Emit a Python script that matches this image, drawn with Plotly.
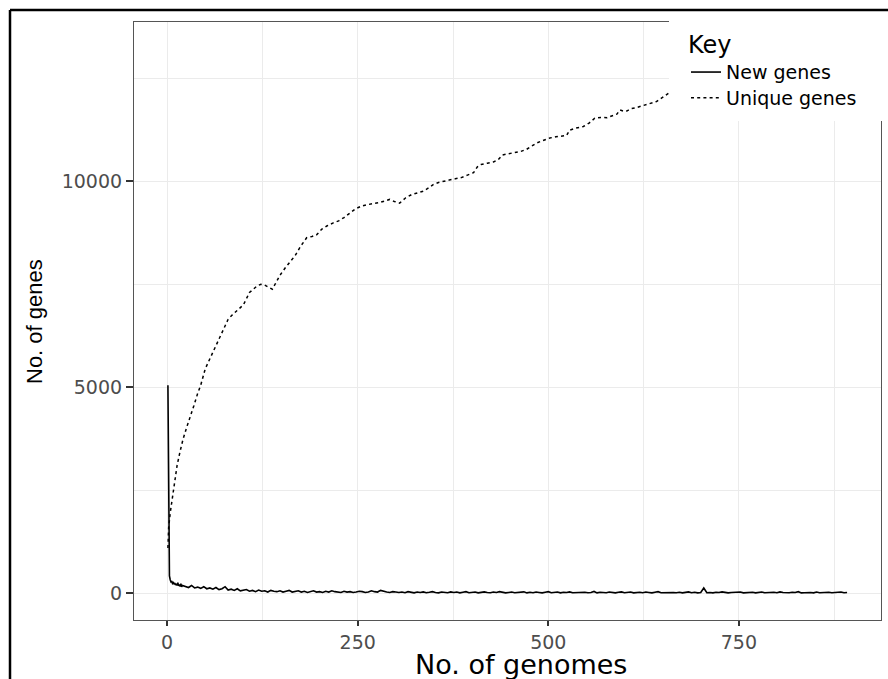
import plotly.graph_objects as go

# ---- data -------------------------------------------------------------
# New genes contributed by each added genome (sampled: every genome up to 20, then every 4th)
new_x = list(range(1, 21)) + list(range(24, 893, 4))
new_genes = [
    5050, 680, 420, 330, 280, 300, 240, 260, 220, 250,
    200, 230, 190, 260, 180, 210, 170, 230, 160, 190,
    # 24 ..
    170, 140, 190, 130, 150, 120, 160, 110, 130, 100,
    140, 90, 110, 160, 80, 100, 70, 110, 60, 80,
    90, 50, 70, 40, 80, 50, 60, 30, 70, 50,
    40, 60, 30, 50, 70, 30, 40, 60, 30, 50,
    20, 40, 60, 30, 40, 20, 50, 30, 60, 40,
    30, 20, 50, 30, 40, 20, 30, 50, 40, 20,
    30, 60, 40, 30, 70, 40, 30, 20, 40, 30,
    # 300 ..
    20, 30, 15, 40, 25, 10, 30, 20, 35, 15,
    25, 40, 20, 10, 30, 25, 15, 35, 20, 30,
    10, 25, 40, 15, 20, 30, 10, 25, 35, 20,
    15, 30, 20, 40, 25, 10, 20, 30, 15, 25,
    # 460 ..
    20, 35, 10, 25, 15, 30, 20, 10, 25, 40,
    15, 20, 30, 10, 25, 20, 35, 15, 20, 10,
    30, 25, 15, 20, 45, 10, 25, 20, 15, 30,
    20, 10, 25, 35, 15, 20, 30, 10, 20, 25,
    # 620 ..
    15, 30, 20, 10, 25, 40, 15, 20, 10, 30,
    20, 15, 25, 10, 20, 35, 15, 25, 10, 20,
    130, 15, 20, 10, 25, 20, 35, 15, 10, 20,
    25, 15, 30, 10, 20, 15, 25, 10, 20, 30,
    # 780 ..
    15, 20, 10, 25, 15, 35, 20, 10, 15, 25,
    20, 40, 10, 15, 25, 20, 10, 30, 15, 20,
    10, 25, 15, 20, 10, 30, 15, 20,
]

# Cumulative unique genes as genomes are added
uniq_x = [
    1, 2, 4, 6, 8, 10, 13, 17, 21, 26, 30, 35, 40, 44, 50, 55, 59, 64, 70, 75,
    80, 85, 89, 95, 100, 104, 108, 113, 118, 123, 128, 133, 138, 143, 148, 155, 162, 168, 175, 183,
    190, 196, 203, 210, 218, 225, 232, 240, 247, 255, 262, 270, 278, 286, 292, 298, 305, 313, 321, 329,
    336, 343, 349, 356, 362, 370, 378, 386, 394, 402, 407, 412, 420, 428, 434, 440, 448, 455, 463, 471,
    478, 485, 493, 502, 510, 518, 524, 528, 536, 546, 554, 561, 569, 577, 584, 590, 594, 599, 603, 608,
    614, 621, 629, 636, 642, 648, 654, 660, 668, 680, 700, 720, 740, 760, 780, 800, 820, 840, 860, 880,
    892,
]
uniq_genes = [
    1100, 1600, 1950, 2200, 2500, 2750, 3100, 3450, 3750, 4050, 4300, 4550, 4850, 5050, 5450, 5650, 5820, 6000, 6220, 6450,
    6650, 6750, 6820, 6900, 7000, 7150, 7300, 7380, 7460, 7500, 7480, 7430, 7380, 7550, 7720, 7900, 8060, 8200, 8420, 8630,
    8660, 8700, 8840, 8920, 8990, 9040, 9120, 9240, 9330, 9400, 9430, 9460, 9480, 9520, 9560, 9510, 9470, 9600, 9680, 9720,
    9760, 9840, 9920, 9970, 10000, 10030, 10060, 10090, 10150, 10210, 10350, 10410, 10440, 10470, 10520, 10640, 10670, 10690, 10720, 10770,
    10850, 10930, 10990, 11050, 11080, 11100, 11110, 11240, 11290, 11330, 11420, 11530, 11550, 11545, 11600, 11630, 11730, 11700, 11705, 11760,
    11780, 11820, 11870, 11900, 11935, 12010, 12090, 12180, 12270, 12360, 12470, 12560, 12640, 12730, 12800, 12870, 12950, 13020, 13090, 13160,
    13200,
]

x_ticks = [0, 250, 500, 750]
y_ticks = [0, 5000, 10000]

# ---- figure -----------------------------------------------------------
W, H = 888, 679
L, R, T, B = 134, 7, 22, 59
PW, PH = W - L - R, H - T - B


def px_x(p):
    return (p - L) / PW


def px_y(p):
    return (H - B - p) / PH


fig = go.Figure()
fig.add_trace(go.Scatter(
    x=new_x, y=new_genes, mode="lines", name="New genes", legend="legend",
    line=dict(color="black", width=1.6),
))
fig.add_trace(go.Scatter(
    x=uniq_x, y=uniq_genes, mode="lines", name="Unique genes", legend="legend2",
    line=dict(color="black", width=1.5, dash="3px,3.2px"),
))

tick_font = dict(family="DejaVu Sans", size=19, color="#4d4d4d")
grid = "#ebebeb"

fig.update_xaxes(
    range=[-43.5, 936.5], tickvals=x_ticks, ticktext=[str(v) for v in x_ticks],
    showgrid=True, gridcolor=grid, gridwidth=1.1, zeroline=False,
    minor=dict(dtick=125, tick0=125, showgrid=True, gridcolor=grid, gridwidth=0.6),
    showline=True, linecolor="#555555", linewidth=1.2, mirror=True,
    ticks="outside", ticklen=5, tickwidth=1.6, tickcolor="#333333",
    tickfont=tick_font,
)
fig.update_yaxes(
    range=[-648, 13866], tickvals=y_ticks, ticktext=[str(v) for v in y_ticks],
    showgrid=True, gridcolor=grid, gridwidth=1.1, zeroline=False,
    minor=dict(dtick=2500, tick0=2500, showgrid=True, gridcolor=grid, gridwidth=0.6),
    showline=True, linecolor="#555555", linewidth=1.2, mirror=True,
    ticks="outside", ticklen=7, tickwidth=1.6, tickcolor="#333333",
    tickfont=tick_font,
)

shapes = [
    # legend background covering the top-right corner of the panel
    dict(type="rect", xref="paper", yref="paper", layer="above",
         x0=px_x(669), x1=px_x(890), y0=px_y(121), y1=px_y(20),
         fillcolor="white", line=dict(width=0)),
    # outer frame
    dict(type="line", xref="paper", yref="paper", layer="above",
         x0=px_x(10), x1=px_x(892), y0=px_y(10), y1=px_y(10),
         line=dict(color="black", width=2.5)),
    dict(type="line", xref="paper", yref="paper", layer="above",
         x0=px_x(10), x1=px_x(10), y0=px_y(10), y1=px_y(685),
         line=dict(color="black", width=2.5)),
]

annotations = [
    dict(text="No. of genomes", xref="paper", yref="paper",
         x=px_x(521), y=px_y(664), xanchor="center", yanchor="middle",
         showarrow=False, font=dict(family="DejaVu Sans", size=27, color="black")),
    dict(text="No. of genes", xref="paper", yref="paper", textangle=-90,
         x=px_x(34), y=px_y(322), xanchor="center", yanchor="middle",
         showarrow=False, font=dict(family="Liberation Sans", size=22, color="black")),
]

item_font = dict(family="DejaVu Sans", size=19, color="black")

fig.update_layout(
    width=W, height=H, autosize=False,
    margin=dict(l=L, r=R, t=T, b=B, pad=0),
    paper_bgcolor="white", plot_bgcolor="white",
    shapes=shapes, annotations=annotations,
    showlegend=True,
    legend=dict(
        title=dict(text="Key", font=dict(family="DejaVu Sans", size=24, color="black")),
        font=item_font,
        x=px_x(686), y=px_y(22), xanchor="left", yanchor="top",
        bgcolor="rgba(0,0,0,0)", borderwidth=0, tracegroupgap=0,
    ),
    legend2=dict(
        font=item_font,
        x=px_x(686), y=px_y(98), xanchor="left", yanchor="middle",
        bgcolor="rgba(0,0,0,0)", borderwidth=0, tracegroupgap=0,
    ),
)

fig.write_html("out.html")
